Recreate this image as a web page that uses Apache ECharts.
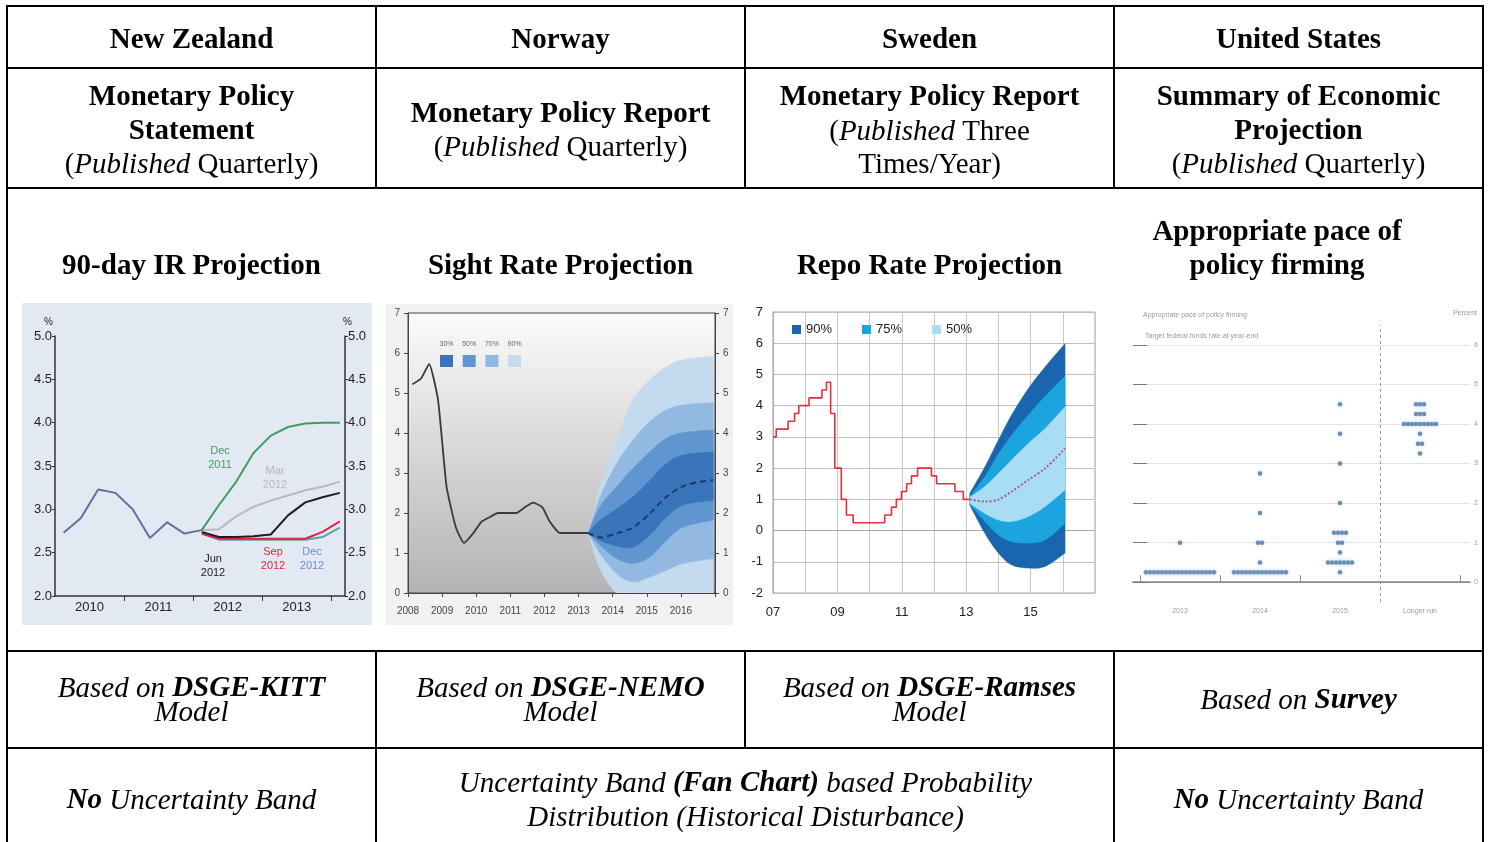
<!DOCTYPE html>
<html><head><meta charset="utf-8">
<script src="https://cdn.jsdelivr.net/npm/echarts@6/dist/echarts.min.js"></script>
<style>html,body{margin:0;padding:0;background:#fff}#c{width:1490px;height:842px}</style>
</head><body><div id="c"></div>
<script>
// ---------------- DATA ----------------
const countries = ['New Zealand', 'Norway', 'Sweden', 'United States'];
const reportLines = [
  ['{b|Monetary Policy}', '{b|Statement}', '{r|(}{i|Published}{r| Quarterly)}'],
  ['{b|Monetary Policy Report}', '{r|(}{i|Published}{r| Quarterly)}'],
  ['{b|Monetary Policy Report}', '{r|(}{i|Published}{r| Three}', '{r|Times/Year)}'],
  ['{b|Summary of Economic}', '{b|Projection}', '{r|(}{i|Published}{r| Quarterly)}']
];
const chartTitles = [['90-day IR Projection'], ['Sight Rate Projection'], ['Repo Rate Projection'], ['Appropriate pace of', 'policy firming']];
const modelNames = ['DSGE-KITT', 'DSGE-NEMO', 'DSGE-Ramses'];
const surveyName = 'Survey';

// New Zealand: 90-day rate, quarterly
const nzHistQ = ['2010Q1','2010Q2','2010Q3','2010Q4','2011Q1','2011Q2','2011Q3','2011Q4','2012Q1'];
const nzHist  = [2.73, 2.90, 3.23, 3.19, 3.00, 2.67, 2.85, 2.72, 2.76];
const nzProjQ = ['2012Q1','2012Q2','2012Q3','2012Q4','2013Q1','2013Q2','2013Q3','2013Q4','2014Q1'];
const nzDec11 = [2.76, 3.05, 3.32, 3.65, 3.85, 3.95, 3.99, 4.00, 4.00];
const nzMar12 = [2.76, 2.77, 2.92, 3.03, 3.10, 3.16, 3.22, 3.26, 3.32];
const nzJun12 = [2.74, 2.68, 2.68, 2.69, 2.71, 2.93, 3.08, 3.14, 3.19];
const nzSep12 = [2.72, 2.66, 2.66, 2.66, 2.66, 2.66, 2.66, 2.74, 2.86];
const nzDec12 = [2.72, 2.65, 2.65, 2.65, 2.65, 2.65, 2.65, 2.68, 2.79];
const nzYearLabels = [2010, 2011, 2012, 2013];

// Norway: sight rate
const noHistDate = [2008.13,2008.39,2008.62,2008.88,2009.13,2009.40,2009.64,2009.91,2010.15,2010.40,2010.64,2010.94,2011.18,2011.42,2011.67,2011.94,2012.16,2012.45,2012.75,2013.04,2013.28];
const noHistRate = [5.22,5.37,5.73,4.83,2.66,1.65,1.25,1.49,1.78,1.90,2.00,2.00,2.00,2.14,2.26,2.14,1.78,1.50,1.50,1.50,1.50];
const noProjDate = [2013.28,2013.63,2014.12,2014.60,2015.09,2015.58,2016.07,2016.56,2016.95];
const noProjRate = [1.50,1.39,1.49,1.64,1.99,2.41,2.67,2.78,2.82];
const noFanDate = [2013.28,2013.63,2014.12,2014.60,2015.09,2015.58,2016.07,2016.95];
const noLo90 = [1.5,0.60,0.00,0.00,0.00,0.00,0.00,0.00];
const noLo70 = [1.5,0.99,0.48,0.28,0.40,0.57,0.74,0.86];
const noLo50 = [1.5,1.19,0.86,0.74,0.90,1.32,1.65,1.82];
const noLo30 = [1.5,1.32,1.17,1.15,1.45,1.90,2.20,2.32];
const noUp30 = [1.5,1.82,2.11,2.41,2.82,3.24,3.45,3.53];
const noUp50 = [1.5,2.16,2.66,3.12,3.53,3.87,4.01,4.08];
const noUp70 = [1.5,2.40,3.24,3.83,4.29,4.58,4.70,4.76];
const noUp90 = [1.5,2.66,3.83,4.83,5.33,5.66,5.83,5.92];
const noBandNames = ['30%', '50%', '70%', '90%'];

// Sweden: repo rate (changes) and fan
const seRepoDate = [2007.00,2007.10,2007.47,2007.67,2007.80,2008.12,2008.52,2008.66,2008.79,2008.92,2009.12,2009.28,2009.49,2010.47,2010.68,2010.83,2010.99,2011.15,2011.30,2011.49,2011.92,2012.08,2012.65,2012.91,2013.11];
const seRepoRate = [3.00,3.25,3.50,3.75,4.00,4.25,4.50,4.75,3.75,2.00,1.00,0.50,0.25,0.50,0.75,1.00,1.25,1.50,1.75,2.00,1.75,1.50,1.25,1.00,1.00];
const seFanDate = [2013.11,2013.58,2014.00,2014.41,2014.93,2015.45,2016.07];
const seMid  = [1.00,0.93,0.99,1.25,1.62,1.99,2.63];
const seLo90 = [0.82,-0.09,-0.72,-1.10,-1.20,-1.15,-0.72];
const seLo75 = [0.85,0.29,-0.14,-0.35,-0.40,-0.30,0.23];
const seLo50 = [0.87,0.55,0.34,0.29,0.45,0.77,1.30];
const seUp50 = [1.06,1.41,1.83,2.26,2.79,3.27,3.96];
const seUp75 = [1.09,1.73,2.45,3.05,3.70,4.30,4.95];
const seUp90 = [1.19,2.04,2.90,3.70,4.55,5.24,5.99];
const seBandNames = ['90%', '75%', '50%'];
const seYearLabels = [2007, 2009, 2011, 2013, 2015];

// United States: FOMC dots, [rate, number of participants]
const usColumns = ['2013', '2014', '2015', 'Longer run'];
const us2013 = [[0.25, 18], [1.00, 1]];
const us2014 = [[0.25, 14], [0.50, 1], [1.00, 2], [1.75, 1], [2.75, 1]];
const us2015 = [[0.25, 1], [0.50, 7], [0.75, 1], [1.00, 2], [1.25, 4], [2.00, 1], [3.00, 1], [3.75, 1], [4.50, 1]];
const usLonger = [[3.25, 1], [3.50, 2], [3.75, 1], [4.00, 9], [4.25, 3], [4.50, 3]];
const usTicks = [0, 1, 2, 3, 4, 5, 6];

// ---------------- STYLE / LAYOUT ----------------
const SERIF = '"Liberation Serif","Times New Roman",serif';
const SANS = '"Liberation Sans",Arial,Helvetica,sans-serif';
const NARROW = '"Liberation Sans Narrow","Liberation Sans",Arial,sans-serif';
const FS = 29;
const RICH = {
  r:  {fontFamily: SERIF, fontSize: FS, fill: '#000'},
  i:  {fontFamily: SERIF, fontSize: FS, fontStyle: 'italic', fill: '#000'},
  b:  {fontFamily: SERIF, fontSize: FS, fontWeight: 'bold', fill: '#000'},
  bi: {fontFamily: SERIF, fontSize: FS, fontWeight: 'bold', fontStyle: 'italic', fill: '#000'}
};
const colX = [191.5, 560.5, 929.5, 1298.5];

const G = [];
function T(x, y, text) {
  G.push({type: 'text', x: x, y: y + 3, z: 100, style: {text: text, rich: RICH, fontFamily: SERIF, fontSize: FS, align: 'center', verticalAlign: 'middle'}});
}
function small(x, y, text, opt) {
  G.push({type: 'text', x: x, y: y, z: 100, style: Object.assign({text: text, fontFamily: SANS, fontSize: 11, fill: '#222', align: 'center', verticalAlign: 'middle'}, opt || {})});
}
function L(x1, y1, x2, y2) {
  G.push({type: 'line', z: 100, shape: {x1: x1, y1: y1, x2: x2, y2: y2}, style: {stroke: '#000', lineWidth: 2}});
}
// chart tiles
G.push({type: 'rect', z: -1, shape: {x: 22, y: 303, width: 350, height: 322}, style: {fill: '#e3e9f2'}});
G.push({type: 'rect', z: -1, shape: {x: 386, y: 304, width: 347, height: 321}, style: {fill: '#f1f1f1'}});

// table lines
[6, 68, 188, 651, 748].forEach(y => L(6, y, 1484, y));
L(7, 5, 7, 842); L(1483, 5, 1483, 842);
L(376, 5, 376, 188); L(376, 651, 376, 842);
L(745, 5, 745, 188); L(745, 651, 745, 748);
L(1114, 5, 1114, 188); L(1114, 651, 1114, 842);

// table texts
countries.forEach((c, i) => T(colX[i], 38, '{b|' + c + '}'));
reportLines.forEach((lines, i) => {
  const ys = lines.length === 3 ? [95, 129, 162] : [112, 145];
  lines.forEach((s, k) => T(colX[i], ys[k], s));
});
chartTitles.forEach((lines, i) => {
  if (lines.length === 1) T(colX[i], 264, '{b|' + lines[0] + '}');
  else { T(1277, 230, '{b|' + lines[0] + '}'); T(1277, 264, '{b|' + lines[1] + '}'); }
});
modelNames.forEach((m, i) => { T(colX[i], 686, '{i|Based on }{bi|' + m + '}'); T(colX[i], 710, '{i|Model}'); });
T(colX[3], 698, '{i|Based on }{bi|' + surveyName + '}');
T(colX[0], 798, '{bi|No}{i| Uncertainty Band}');
T(colX[3], 798, '{bi|No}{i| Uncertainty Band}');
T(745.5, 781, '{i|Uncertainty Band }{bi|(Fan Chart)}{i| based Probability}');
T(745.5, 815, '{i|Distribution (Historical Disturbance)}');

// NZ annotations
small(53, 322, '%', {fontSize: 10, align: 'right'});
small(343, 322, '%', {fontSize: 10, align: 'left'});
small(220, 458, 'Dec\n2011', {fill: '#3f9d62', fontFamily: NARROW, lineHeight: 14});
small(275, 478, 'Mar\n2012', {fill: '#b6b6be', fontFamily: NARROW, lineHeight: 14});
small(213, 566, 'Jun\n2012', {fill: '#1c1c1c', fontFamily: NARROW, lineHeight: 14});
small(273, 559, 'Sep\n2012', {fill: '#e2223e', fontFamily: NARROW, lineHeight: 14});
small(312, 559, 'Dec\n2012', {fill: '#6d8cc8', fontFamily: NARROW, lineHeight: 14});

// Norway legend (boxes with labels above)
const noC = {'30%': '#3a74ba', '50%': '#5f96d0', '70%': '#91b9e1', '90%': '#c4daef'};
noBandNames.forEach((n, i) => {
  G.push({type: 'rect', z: 100, shape: {x: 440 + i * 22.7, y: 355, width: 13, height: 12}, style: {fill: noC[n]}});
  small(446.5 + i * 22.7, 344, n, {fontSize: 7, fill: '#666', fontFamily: NARROW});
});

// US texts
small(1143, 315, 'Appropriate pace of policy firming', {fontSize: 7, fill: '#999', align: 'left'});
small(1477, 313, 'Percent', {fontSize: 7, fill: '#999', align: 'right'});
small(1145, 336, 'Target federal funds rate at year-end', {fontSize: 7, fill: '#999', align: 'left'});

// ---------------- HELPERS ----------------
function qx(q) { return +q.slice(0, 4) + (+q.slice(5) - 0.5) / 4; }
function pairs(xs, ys) { return xs.map((x, i) => [x, ys[i]]); }
// smooth a pixel polyline for drawing (Catmull-Rom, rendering only)
function curve(p) {
  const out = [], n = p.length, S = 10;
  for (let i = 0; i < n - 1; i++) {
    const p0 = p[Math.max(i - 1, 0)], p1 = p[i], p2 = p[i + 1], p3 = p[Math.min(i + 2, n - 1)];
    for (let s = 0; s < S; s++) {
      const t = s / S, t2 = t * t, t3 = t2 * t;
      out.push([0, 1].map(d => 0.5 * ((2 * p1[d]) + (-p0[d] + p2[d]) * t + (2 * p0[d] - 5 * p1[d] + 4 * p2[d] - p3[d]) * t2 + (-p0[d] + 3 * p1[d] - 3 * p2[d] + p3[d]) * t3)));
    }
  }
  out.push(p[n - 1]);
  return out;
}
function band(xs, lo, hi, color, xi, yi, z) {
  return {
    type: 'custom', xAxisIndex: xi, yAxisIndex: yi, silent: true, z: z, clip: true,
    encode: {x: 0, y: [1, 2]},
    data: xs.map((x, i) => [x, lo[i], hi[i]]),
    renderItem: function (params, api) {
      if (params.dataIndex !== 0) return null;
      const up = xs.map((x, i) => api.coord([x, hi[i]]));
      const dn = xs.map((x, i) => api.coord([x, lo[i]]));
      const pts = curve(up).concat(curve(dn).reverse());
      return {type: 'polygon', shape: {points: pts}, style: {fill: color, stroke: color, lineWidth: 0.5}};
    }
  };
}
function nzLine(xs, ys, color, z) {
  return {type: 'line', xAxisIndex: 0, yAxisIndex: 0, data: pairs(xs.map(qx), ys), symbol: 'none', lineStyle: {color: color, width: 2}, z: z, silent: true};
}

// US dots
const usDots = [us2013, us2014, us2015, usLonger];
const usData = [];
usDots.forEach((col, ci) => col.forEach(([rate, n]) => {
  for (let k = 0; k < n; k++) usData.push([ci + 0.5 + (k - (n - 1) / 2) * 0.05, rate]);
}));

// ---------------- OPTION ----------------
const axisTxt = {fontFamily: SANS, color: '#222'};
const seC = {'90%': '#1a66ae', '75%': '#1ba4de', '50%': '#a9ddf3'};

const option = {
  animation: false,
  textStyle: {fontFamily: SANS},
  graphic: {elements: G},
  legend: {
    data: seBandNames, left: 787, top: 318, itemWidth: 9, itemHeight: 9, itemGap: 30, icon: 'rect',
    selectedMode: false, textStyle: {fontSize: 13, color: '#222', fontFamily: SANS}
  },
  grid: [
    {left: 55, top: 336, width: 290, height: 260},
    {left: 408, top: 313, width: 307, height: 280, show: true, borderColor: '#444', borderWidth: 1,
      backgroundColor: {type: 'linear', x: 0, y: 0, x2: 0, y2: 1, colorStops: [{offset: 0, color: '#fbfbfb'}, {offset: 1, color: '#b3b3b3'}]}},
    {left: 773, top: 312, width: 322, height: 281, show: true, borderColor: '#a8a8a8', borderWidth: 1, backgroundColor: '#fff'},
    {left: 1133, top: 325, width: 337, height: 277}
  ],
  xAxis: [
    {gridIndex: 0, type: 'value', min: 2010, max: 2014.2,
      axisLine: {lineStyle: {color: '#333', width: 1.5}},
      axisTick: {customValues: [2011, 2012, 2013, 2014], length: 5, lineStyle: {color: '#333'}},
      axisLabel: Object.assign({customValues: nzYearLabels.map(y => y + 0.5), formatter: v => String(Math.floor(v)), fontSize: 13, margin: 5}, axisTxt),
      splitLine: {show: false}},
    {gridIndex: 1, type: 'value', min: 2008, max: 2017, interval: 1,
      axisLine: {lineStyle: {color: '#444'}}, axisTick: {length: 4, lineStyle: {color: '#444'}},
      axisLabel: {formatter: v => v < 2017 ? String(v) : '', fontSize: 10, color: '#444', margin: 13, fontFamily: NARROW},
      splitLine: {show: false}},
    {gridIndex: 2, type: 'value', min: 2007, max: 2017, interval: 1,
      axisLine: {lineStyle: {color: '#a8a8a8'}}, axisTick: {show: false},
      axisLabel: Object.assign({customValues: seYearLabels, formatter: v => String(v).slice(2), fontSize: 13, margin: 13}, axisTxt),
      splitLine: {show: true, lineStyle: {color: '#c8c8c8'}}},
    {gridIndex: 3, type: 'value', min: -0.0875, max: 4.125,
      axisLine: {lineStyle: {color: '#999', width: 1.2}},
      axisTick: {customValues: [0, 1, 2, 4], inside: true, length: 7, lineStyle: {color: '#888'}},
      axisLabel: {customValues: [0.5, 1.5, 2.5, 3.5], formatter: v => usColumns[Math.floor(v)], fontSize: 7, color: '#999', margin: 6},
      splitLine: {show: false}},
    {gridIndex: 3, type: 'value', position: 'top', min: -0.0875, max: 4.125,
      axisLine: {lineStyle: {color: '#888', width: 1.5}}, axisTick: {show: false}, axisLabel: {show: false}, splitLine: {show: false}}
  ],
  yAxis: [
    {gridIndex: 0, type: 'value', min: 2, max: 5, interval: 0.5, position: 'left',
      axisLine: {show: true, lineStyle: {color: '#333', width: 1.5}}, axisTick: {show: true, length: 3, lineStyle: {color: '#333'}},
      axisLabel: Object.assign({formatter: v => v.toFixed(1), fontSize: 13, margin: 3}, axisTxt), splitLine: {show: false}},
    {gridIndex: 0, type: 'value', min: 2, max: 5, interval: 0.5, position: 'right',
      axisLine: {show: true, lineStyle: {color: '#333', width: 1.5}}, axisTick: {show: true, length: 3, lineStyle: {color: '#333'}},
      axisLabel: Object.assign({formatter: v => v.toFixed(1), fontSize: 13, margin: 3}, axisTxt), splitLine: {show: false}},
    {gridIndex: 1, type: 'value', min: 0, max: 7, interval: 1, position: 'left',
      axisLine: {show: true, lineStyle: {color: '#444'}}, axisTick: {show: true, length: 4},
      axisLabel: {fontSize: 10, color: '#444', margin: 8, fontFamily: NARROW}, splitLine: {show: false}},
    {gridIndex: 1, type: 'value', min: 0, max: 7, interval: 1, position: 'right',
      axisLine: {show: true, lineStyle: {color: '#444'}}, axisTick: {show: true, length: 4},
      axisLabel: {fontSize: 10, color: '#444', margin: 8, fontFamily: NARROW}, splitLine: {show: false}},
    {gridIndex: 2, type: 'value', min: -2, max: 7, interval: 1,
      axisLine: {show: true, lineStyle: {color: '#a8a8a8'}}, axisTick: {show: false},
      axisLabel: Object.assign({fontSize: 13, margin: 10}, axisTxt), splitLine: {show: true, lineStyle: {color: '#c0c0c0'}}},
    {gridIndex: 3, type: 'value', min: -0.5, max: 6.5, position: 'left',
      axisLine: {show: false}, axisTick: {show: true, inside: true, customValues: usTicks, length: 7, lineStyle: {color: '#777'}},
      axisLabel: {show: false}, splitLine: {show: true, lineStyle: {color: '#e3e3e3'}}},
    {gridIndex: 3, type: 'value', min: -0.5, max: 6.5, position: 'right',
      axisLine: {show: false}, axisTick: {show: true, inside: true, customValues: usTicks, length: 7, lineStyle: {color: '#777'}},
      axisLabel: {customValues: usTicks, fontSize: 7, color: '#999', margin: 4}, splitLine: {show: false}}
  ],
  series: [
    // New Zealand
    nzLine(nzProjQ, nzDec12, '#5aa0b8', 2),
    nzLine(nzProjQ, nzSep12, '#e2223e', 3),
    nzLine(nzProjQ, nzJun12, '#1c1c2a', 4),
    nzLine(nzProjQ, nzMar12, '#b8b8c2', 5),
    nzLine(nzProjQ, nzDec11, '#3f9d62', 6),
    nzLine(nzHistQ, nzHist, '#646ea2', 7),
    // Norway fan (outer to inner)
    band(noFanDate, noLo90, noUp90, noC['90%'], 1, 2, 1),
    band(noFanDate, noLo70, noUp70, noC['70%'], 1, 2, 2),
    band(noFanDate, noLo50, noUp50, noC['50%'], 1, 2, 3),
    band(noFanDate, noLo30, noUp30, noC['30%'], 1, 2, 4),
    {type: 'line', xAxisIndex: 1, yAxisIndex: 2, data: pairs(noHistDate, noHistRate), symbol: 'none', smooth: 0.15, lineStyle: {color: '#3a3a3a', width: 1.8}, z: 6, silent: true},
    {type: 'line', xAxisIndex: 1, yAxisIndex: 2, data: pairs(noProjDate, noProjRate), symbol: 'none', smooth: 0.3, lineStyle: {color: '#1d3a66', width: 2, type: [6, 4]}, z: 6, silent: true},
    // Sweden fan (outer to inner), legend proxies
    Object.assign(band(seFanDate, seLo90, seUp90, seC['90%'], 2, 4, 1), {name: '90%', itemStyle: {color: seC['90%']}}),
    Object.assign(band(seFanDate, seLo75, seUp75, seC['75%'], 2, 4, 2), {name: '75%', itemStyle: {color: seC['75%']}}),
    Object.assign(band(seFanDate, seLo50, seUp50, seC['50%'], 2, 4, 3), {name: '50%', itemStyle: {color: seC['50%']}}),
    {type: 'line', xAxisIndex: 2, yAxisIndex: 4, data: pairs(seRepoDate, seRepoRate), step: 'end', symbol: 'none', lineStyle: {color: '#e3303c', width: 1.6}, z: 6, silent: true},
    {type: 'line', xAxisIndex: 2, yAxisIndex: 4, data: pairs(seFanDate, seMid), smooth: 0.3, symbol: 'none', lineStyle: {color: '#a4589c', width: 2, type: 'dotted'}, z: 6, silent: true},
    // United States
    {type: 'scatter', xAxisIndex: 3, yAxisIndex: 5, data: usData, symbolSize: 4.5,
      itemStyle: {color: '#4f7098', shadowColor: '#9fcdf2', shadowBlur: 4}, z: 5, silent: true,
      markLine: {silent: true, symbol: 'none', label: {show: false}, lineStyle: {type: [3, 3], color: '#999', width: 1}, data: [{xAxis: 3}]}}
  ]
};

const chart = echarts.init(document.getElementById('c'), null, {renderer: 'canvas'});
chart.setOption(option);
</script>
</body></html>
